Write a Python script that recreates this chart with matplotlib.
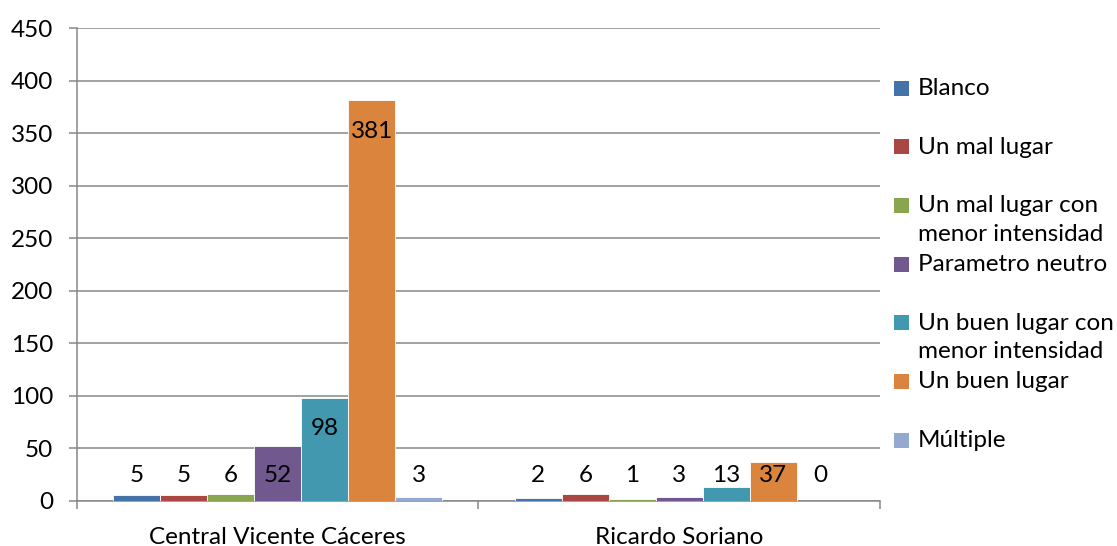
import numpy as np
import matplotlib.pyplot as plt
from matplotlib.patches import Rectangle

plt.rcParams['font.family'] = ['Lato', 'DejaVu Sans']

# Respuestas por estación
estaciones = ["Central Vicente Cáceres", "Ricardo Soriano"]
series = ["Blanco", "Un mal lugar", "Un mal lugar con\nmenor intensidad",
          "Parametro neutro", "Un buen lugar con\nmenor intensidad",
          "Un buen lugar", "Múltiple"]
blanco = [5, 2]
mal_lugar = [5, 6]
mal_lugar_menor = [6, 1]
neutro = [52, 3]
buen_lugar_menor = [98, 13]
buen_lugar = [381, 37]
multiple = [3, 0]
valores = [blanco, mal_lugar, mal_lugar_menor, neutro,
           buen_lugar_menor, buen_lugar, multiple]
colores = ['#4572A7', '#AA4643', '#89A54E', '#71588F',
           '#4198AF', '#DB843D', '#93A9CF']
y_ticks = [0, 50, 100, 150, 200, 250, 300, 350, 400, 450]

fig = plt.figure(figsize=(11.17, 5.46), dpi=100)
ax = fig.add_axes([0.0689, 0.0833, 0.7189, 0.8654])

fs = 17.5
grid_color = '#878787'
n = len(series)
ancho = 0.117
x = np.arange(len(estaciones))

for i, (vals, col) in enumerate(zip(valores, colores)):
    pos = x + (i - (n - 1) / 2) * ancho
    ax.bar(pos, vals, width=ancho, color=col, edgecolor='white',
           linewidth=0.6, zorder=3)
    for xp, v in zip(pos, vals):
        # etiqueta dentro del extremo, o sobre la base si la barra es baja
        ax.text(xp, max(v - 29.5, 24.3), str(v), ha='center', va='center',
                fontsize=fs, color='black', zorder=4)

ax.set_ylim(0, 450)
ax.set_xlim(-0.5, 1.5)
ax.set_yticks(y_ticks)
ax.set_yticklabels([str(t) for t in y_ticks], fontsize=fs)
ax.yaxis.grid(True, color=grid_color, linewidth=1.1, zorder=0)
ax.tick_params(axis='y', length=6, width=1.1, color=grid_color, pad=11)

ax.set_xticks(x)
ax.set_xticklabels(estaciones, fontsize=fs)
ax.tick_params(axis='x', which='major', length=0, pad=19)
ax.set_xticks([-0.5, 0.5, 1.5], minor=True)
ax.tick_params(axis='x', which='minor', length=6, width=1.1,
               color=grid_color, direction='out')

for s in ['top', 'right']:
    ax.spines[s].set_visible(False)
for s in ['left', 'bottom']:
    ax.spines[s].set_color(grid_color)
    ax.spines[s].set_linewidth(1.1)

# Leyenda a la derecha
W, H = 1117, 546
y0, paso = 88, 58.7
for i, (nombre, col) in enumerate(zip(series, colores)):
    yc = y0 + i * paso
    fig.patches.append(Rectangle((894 / W, 1 - (yc + 7.5) / H), 15 / W, 15 / H,
                                 transform=fig.transFigure, facecolor=col,
                                 edgecolor='none'))
    fig.text(918 / W, 1 - (yc - 10) / H, nombre, ha='left', va='top',
             fontsize=fs, linespacing=1.42)

fig.savefig('out.png', dpi=100)
